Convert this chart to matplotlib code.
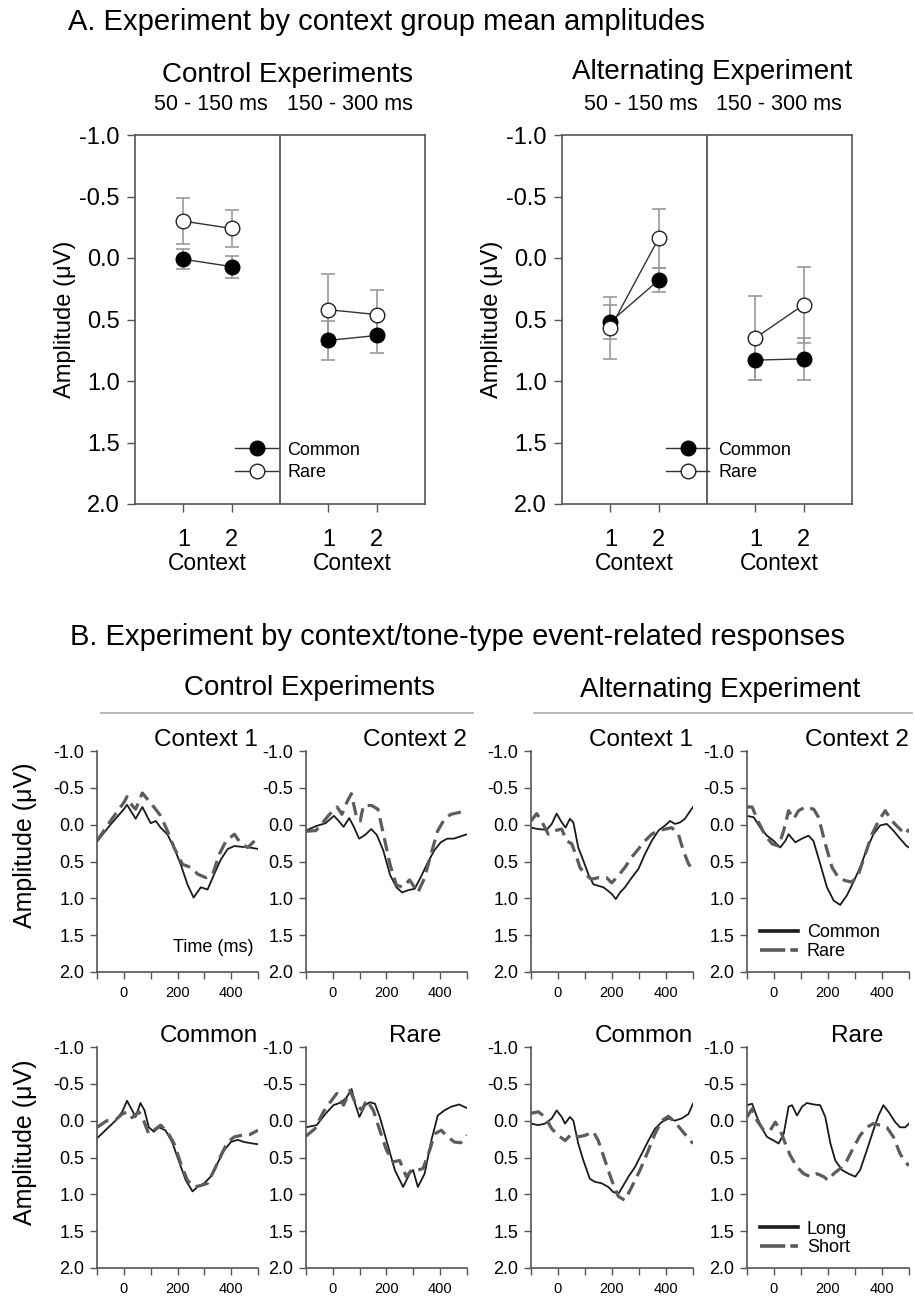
import matplotlib
matplotlib.use("Agg")
import matplotlib.pyplot as plt
from matplotlib.lines import Line2D

plt.rcParams['font.family'] = ['Liberation Sans', 'DejaVu Sans']
plt.rcParams['axes.unicode_minus'] = False

# ---- A: mean amplitudes (x: 1,2 = early window context 1/2, 4,5 = late window)
mean_x = [1, 2, 4, 5]
ctl_common = [0.01, 0.07, 0.67, 0.63]
ctl_common_err = [0.08, 0.09, 0.16, 0.14]
ctl_rare = [-0.30, -0.24, 0.42, 0.46]
ctl_rare_err = [0.19, 0.15, 0.29, 0.20]
alt_common = [0.52, 0.18, 0.83, 0.82]
alt_common_err = [0.14, 0.10, 0.16, 0.17]
alt_rare = [0.57, -0.16, 0.65, 0.38]
alt_rare_err = [0.25, 0.24, 0.34, 0.31]

# ---- B: ERP waveforms (time in ms, amplitude in uV)
ctl_c1_common_t = [-100, -50, 0, 12, 44, 69, 100, 119, 137, 162, 187, 212, 237, 260, 287, 312, 337, 362, 387, 412, 437, 469, 500]
ctl_c1_common_v = [0.23, 0.0, -0.21, -0.27, -0.08, -0.24, -0.02, -0.05, 0.04, 0.13, 0.31, 0.54, 0.81, 0.99, 0.85, 0.88, 0.67, 0.47, 0.33, 0.29, 0.30, 0.31, 0.33]
ctl_c1_rare_t = [-100, -50, 0, 12, 31, 44, 69, 87, 112, 137, 162, 187, 219, 250, 275, 306, 331, 356, 381, 412, 437, 462, 487, 500]
ctl_c1_rare_v = [0.22, -0.05, -0.30, -0.38, -0.26, -0.21, -0.43, -0.35, -0.24, -0.12, 0.08, 0.31, 0.54, 0.58, 0.67, 0.72, 0.67, 0.40, 0.22, 0.13, 0.26, 0.31, 0.22, 0.20]

ctl_c2_common_t = [-100, -63, -27, 4, 22, 40, 61, 77, 98, 120, 143, 164, 188, 213, 237, 258, 280, 305, 328, 353, 378, 402, 426, 451, 475, 500]
ctl_c2_common_v = [0.08, 0.02, -0.02, -0.12, -0.05, 0.03, -0.09, 0.02, 0.19, 0.14, 0.06, 0.14, 0.35, 0.68, 0.85, 0.92, 0.89, 0.87, 0.71, 0.52, 0.35, 0.24, 0.19, 0.19, 0.16, 0.13]
ctl_c2_rare_t = [-100, -63, -39, -15, 16, 34, 53, 69, 89, 102, 114, 145, 168, 188, 213, 237, 261, 286, 317, 341, 366, 390, 415, 439, 464, 500]
ctl_c2_rare_v = [0.09, 0.08, -0.02, -0.13, -0.24, -0.14, -0.31, -0.42, -0.09, -0.05, -0.26, -0.26, -0.21, 0.12, 0.54, 0.82, 0.85, 0.75, 0.92, 0.73, 0.40, 0.09, -0.07, -0.14, -0.16, -0.19]

alt_c1_common_t = [-100, -73, -42, -23, -5, 14, 28, 44, 57, 75, 94, 112, 131, 149, 168, 186, 199, 214, 230, 248, 273, 298, 322, 347, 372, 397, 415, 433, 452, 470, 483, 500]
alt_c1_common_v = [0.04, 0.06, 0.07, -0.01, -0.15, -0.03, 0.04, -0.08, -0.03, 0.31, 0.49, 0.67, 0.81, 0.83, 0.85, 0.90, 0.94, 1.01, 0.92, 0.85, 0.72, 0.60, 0.40, 0.22, 0.08, 0.01, -0.05, -0.01, -0.03, -0.08, -0.15, -0.24]
alt_c1_rare_t = [-100, -79, -61, -36, -11, 14, 32, 51, 69, 81, 100, 124, 149, 180, 199, 224, 248, 273, 298, 322, 347, 372, 397, 421, 446, 464, 483, 500]
alt_c1_rare_v = [-0.05, -0.15, -0.05, 0.13, 0.08, 0.06, 0.22, 0.26, 0.44, 0.58, 0.67, 0.74, 0.72, 0.72, 0.79, 0.69, 0.58, 0.44, 0.33, 0.22, 0.13, 0.08, 0.06, 0.04, 0.13, 0.35, 0.53, 0.62]

alt_c2_common_t = [-100, -75, -51, -26, -1, 23, 42, 54, 79, 103, 128, 146, 171, 196, 221, 245, 270, 294, 319, 344, 368, 393, 418, 442, 467, 491, 500]
alt_c2_common_v = [-0.12, -0.10, 0.04, 0.15, 0.22, 0.31, 0.22, 0.13, 0.24, 0.19, 0.15, 0.22, 0.53, 0.85, 1.03, 1.09, 0.96, 0.78, 0.58, 0.33, 0.13, 0.01, -0.01, 0.08, 0.19, 0.29, 0.31]
alt_c2_rare_t = [-100, -81, -57, -32, -7, 17, 36, 54, 73, 91, 116, 147, 165, 190, 215, 239, 264, 289, 313, 338, 363, 387, 412, 437, 461, 486, 500]
alt_c2_rare_v = [-0.24, -0.24, -0.03, 0.15, 0.26, 0.29, 0.08, -0.19, -0.08, -0.19, -0.24, -0.21, -0.10, 0.26, 0.58, 0.72, 0.76, 0.78, 0.67, 0.40, 0.13, -0.05, -0.19, -0.05, 0.04, 0.13, 0.06]

ctl_common_long_t = [-100, -63, -31, -6, 12, 31, 44, 62, 77, 93, 112, 130, 155, 180, 206, 231, 256, 274, 299, 324, 349, 374, 399, 424, 449, 480, 500]
ctl_common_long_v = [0.24, 0.11, 0.0, -0.12, -0.27, -0.14, -0.05, -0.24, -0.14, 0.09, 0.15, 0.09, 0.13, 0.29, 0.56, 0.81, 0.96, 0.90, 0.85, 0.76, 0.58, 0.40, 0.29, 0.26, 0.29, 0.31, 0.32]
ctl_common_short_t = [-100, -63, -31, -6, 12, 31, 56, 74, 93, 112, 137, 162, 187, 212, 237, 262, 287, 312, 337, 362, 387, 412, 437, 469, 500]
ctl_common_short_v = [0.09, 0.0, -0.01, -0.09, -0.12, -0.04, -0.12, 0.0, 0.18, 0.13, 0.06, 0.15, 0.31, 0.58, 0.81, 0.90, 0.88, 0.85, 0.67, 0.47, 0.29, 0.22, 0.20, 0.19, 0.13]

ctl_rare_long_t = [-100, -60, -28, 2, 33, 52, 70, 83, 99, 120, 138, 157, 175, 200, 231, 262, 286, 299, 317, 342, 367, 391, 416, 441, 471, 500]
ctl_rare_long_v = [0.09, 0.06, -0.09, -0.21, -0.25, -0.32, -0.43, -0.23, -0.05, -0.21, -0.25, -0.23, -0.05, 0.27, 0.67, 0.90, 0.72, 0.67, 0.90, 0.72, 0.27, -0.07, -0.14, -0.19, -0.22, -0.17]
ctl_rare_short_t = [-100, -67, -35, -10, 15, 40, 64, 83, 108, 126, 151, 175, 200, 225, 249, 274, 293, 317, 336, 361, 379, 404, 428, 453, 476, 500]
ctl_rare_short_v = [0.21, 0.11, -0.12, -0.25, -0.37, -0.21, -0.41, -0.25, -0.14, -0.28, -0.14, 0.13, 0.40, 0.56, 0.54, 0.76, 0.67, 0.67, 0.65, 0.40, 0.18, 0.13, 0.22, 0.29, 0.30, 0.20]

alt_common_long_t = [-100, -73, -48, -23, -5, 14, 26, 44, 57, 75, 94, 118, 137, 162, 186, 205, 224, 242, 261, 285, 310, 335, 359, 384, 409, 433, 458, 483, 500]
alt_common_long_v = [0.04, 0.06, 0.04, -0.03, -0.14, -0.05, 0.04, -0.05, 0.0, 0.31, 0.54, 0.79, 0.83, 0.85, 0.90, 0.97, 0.99, 0.88, 0.76, 0.63, 0.45, 0.27, 0.11, 0.02, -0.03, 0.0, -0.03, -0.09, -0.23]
alt_common_short_t = [-100, -73, -48, -23, 1, 26, 51, 75, 100, 131, 149, 174, 199, 224, 248, 273, 304, 335, 359, 384, 409, 433, 458, 483, 500]
alt_common_short_v = [-0.10, -0.12, -0.05, 0.11, 0.20, 0.27, 0.18, 0.22, 0.20, 0.15, 0.27, 0.54, 0.81, 1.03, 1.08, 0.90, 0.67, 0.40, 0.18, 0.0, -0.06, 0.02, 0.13, 0.24, 0.31]

alt_rare_long_t = [-100, -81, -63, -44, -26, -1, 17, 36, 54, 67, 85, 104, 122, 147, 171, 190, 209, 227, 252, 276, 301, 319, 344, 368, 387, 405, 424, 449, 467, 486, 500]
alt_rare_long_v = [-0.21, -0.23, -0.05, 0.11, 0.22, 0.27, 0.31, 0.18, -0.19, -0.21, -0.07, -0.19, -0.24, -0.22, -0.21, -0.05, 0.31, 0.54, 0.67, 0.72, 0.76, 0.67, 0.40, 0.13, -0.07, -0.21, -0.12, 0.02, 0.09, 0.09, 0.04]
alt_rare_short_t = [-100, -81, -63, -38, -14, 5, 23, 42, 60, 85, 110, 134, 159, 184, 200, 221, 245, 270, 295, 319, 344, 368, 393, 418, 442, 467, 486, 500]
alt_rare_short_v = [-0.05, -0.16, 0.0, 0.13, 0.13, 0.02, 0.13, 0.31, 0.47, 0.63, 0.72, 0.76, 0.72, 0.76, 0.81, 0.72, 0.65, 0.54, 0.36, 0.20, 0.09, 0.04, 0.06, 0.09, 0.22, 0.45, 0.56, 0.61]

y_ticks = [-1.0, -0.5, 0.0, 0.5, 1.0, 1.5, 2.0]
time_ticks = [-100, 0, 100, 200, 300, 400, 500]
time_labels = ['', '0', '', '200', '', '400', '']

W, H = 915, 1297
fig = plt.figure(figsize=(W / 100, H / 100), dpi=100)
SPINE = '#555555'
SOLID = '#1a1a1a'
DASH = '#5c5c5c'


def px_axes(x0, y0, x1, y1):
    return fig.add_axes([x0 / W, 1 - y1 / H, (x1 - x0) / W, (y1 - y0) / H])


def ftext(x, y, s, **kw):
    fig.text(x / W, 1 - y / H, s, **kw)


def draw_means(ax, common, common_err, rare, rare_err, leg_x):
    ax.errorbar(mean_x, common, yerr=common_err, fmt='none', ecolor='#999999',
                elinewidth=1.2, capsize=5, capthick=1.2, zorder=1)
    ax.errorbar(mean_x, rare, yerr=rare_err, fmt='none', ecolor='#999999',
                elinewidth=1.2, capsize=5, capthick=1.2, zorder=1)
    for i in (0, 2):
        ax.plot(mean_x[i:i + 2], common[i:i + 2], color='#333333', lw=1, zorder=2)
        ax.plot(mean_x[i:i + 2], rare[i:i + 2], color='#333333', lw=1, zorder=2)
    ax.plot(mean_x, common, 'o', ms=10.5, mfc='black', mec='black', ls='none', zorder=3)
    ax.plot(mean_x, rare, 'o', ms=10.5, mfc='white', mec='#222222', mew=1, ls='none', zorder=4)
    ax.axvline(3, color=SPINE, lw=1.3)
    ax.set_xlim(0, 6)
    ax.set_ylim(2, -1)
    ax.set_yticks(y_ticks)
    ax.set_yticklabels(['%.1f' % v for v in y_ticks])
    ax.set_xticks(mean_x)
    ax.set_xticklabels(['1', '2', '1', '2'])
    ax.tick_params(axis='both', direction='out', length=6, width=1, color=SPINE, labelsize=17)
    ax.tick_params(axis='x', pad=12)
    ax.tick_params(axis='y', pad=5)
    for s in ax.spines.values():
        s.set_color(SPINE)
        s.set_linewidth(1.2)
    ax.set_ylabel('Amplitude (μV)', fontsize=17, labelpad=2)
    for xc in (1.5, 4.5):
        ax.text(xc, -0.16, 'Context', transform=ax.get_xaxis_transform(),
                ha='center', va='center', fontsize=16.5)
    handles = [
        Line2D([], [], color='#333333', lw=1, marker='o', ms=10.5, mfc='black', mec='black'),
        Line2D([], [], color='#333333', lw=1, marker='o', ms=10.5, mfc='white', mec='#222222'),
    ]
    fig.legend(handles, ['Common', 'Rare'], loc='center left',
               bbox_to_anchor=(leg_x / W, 1 - 461.5 / H), frameon=False,
               fontsize=13, handlelength=2.4, handletextpad=0.5, labelspacing=0.3,
               borderpad=0, borderaxespad=0)


def draw_erp(ax, ta, va, tb, vb, title, title_x=1.0):
    ax.plot(ta, va, color=SOLID, lw=1.3)
    ax.plot(tb, vb, color=DASH, lw=2.3, dashes=(4.2, 2.2))
    ax.set_xlim(-100, 500)
    ax.set_ylim(2, -1)
    ax.set_yticks(y_ticks)
    ax.set_yticklabels(['%.1f' % v for v in y_ticks])
    ax.set_xticks(time_ticks)
    ax.set_xticklabels(time_labels)
    ax.tick_params(axis='y', direction='out', length=5, width=1, color=SPINE, labelsize=13, pad=4)
    ax.tick_params(axis='x', direction='out', length=5, width=1, color=SPINE, labelsize=10.5, pad=5)
    for k in ('top', 'right'):
        ax.spines[k].set_visible(False)
    for k in ('left', 'bottom'):
        ax.spines[k].set_color(SPINE)
        ax.spines[k].set_linewidth(1.2)
    ax.text(title_x, 1.0, title, transform=ax.transAxes, ha='right', va='bottom',
            fontsize=17.5)


# ---- section A
ftext(68, 22, 'A. Experiment by context group mean amplitudes', fontsize=21, va='center')

ax_a1 = px_axes(135, 135, 425, 504)
draw_means(ax_a1, ctl_common, ctl_common_err, ctl_rare, ctl_rare_err, 235)
ax_a2 = px_axes(562, 135, 852, 504)
draw_means(ax_a2, alt_common, alt_common_err, alt_rare, alt_rare_err, 666)

ftext(288, 75, 'Control Experiments', fontsize=20, ha='center', va='center')
ftext(211, 105, '50 - 150 ms', fontsize=15.5, ha='center', va='center')
ftext(350, 105, '150 - 300 ms', fontsize=15.5, ha='center', va='center')
ftext(712, 72, 'Alternating Experiment', fontsize=20, ha='center', va='center')
ftext(641, 105, '50 - 150 ms', fontsize=15.5, ha='center', va='center')
ftext(779, 105, '150 - 300 ms', fontsize=15.5, ha='center', va='center')

# ---- section B
ftext(70, 637, 'B. Experiment by context/tone-type event-related responses', fontsize=21, va='center')
ftext(310, 688, 'Control Experiments', fontsize=20, ha='center', va='center')
ftext(720, 690, 'Alternating Experiment', fontsize=20, ha='center', va='center')
fig.add_artist(Line2D([101 / W, 473 / W], [1 - 713 / H] * 2, color='#aaaaaa', lw=1.2))
fig.add_artist(Line2D([534 / W, 912 / W], [1 - 713 / H] * 2, color='#aaaaaa', lw=1.2))

cols = [(97, 258), (306, 467), (531, 693), (747, 909)]
rows = [(751, 972), (1047, 1268)]

b = [[None] * 4 for _ in rows]
for r, (y0, y1) in enumerate(rows):
    for c, (x0, x1) in enumerate(cols):
        b[r][c] = px_axes(x0, y0, x1, y1)

draw_erp(b[0][0], ctl_c1_common_t, ctl_c1_common_v, ctl_c1_rare_t, ctl_c1_rare_v, 'Context 1')
draw_erp(b[0][1], ctl_c2_common_t, ctl_c2_common_v, ctl_c2_rare_t, ctl_c2_rare_v, 'Context 2')
draw_erp(b[0][2], alt_c1_common_t, alt_c1_common_v, alt_c1_rare_t, alt_c1_rare_v, 'Context 1')
draw_erp(b[0][3], alt_c2_common_t, alt_c2_common_v, alt_c2_rare_t, alt_c2_rare_v, 'Context 2')
draw_erp(b[1][0], ctl_common_long_t, ctl_common_long_v, ctl_common_short_t, ctl_common_short_v, 'Common')
draw_erp(b[1][1], ctl_rare_long_t, ctl_rare_long_v, ctl_rare_short_t, ctl_rare_short_v, 'Rare', 0.84)
draw_erp(b[1][2], alt_common_long_t, alt_common_long_v, alt_common_short_t, alt_common_short_v, 'Common')
draw_erp(b[1][3], alt_rare_long_t, alt_rare_long_v, alt_rare_short_t, alt_rare_short_v, 'Rare', 0.84)

b[0][0].text(332, 1.67, 'Time (ms)', ha='center', va='center', fontsize=13)

ftext(25, 845, 'Amplitude (μV)', fontsize=18, rotation=90, ha='center', va='center')
ftext(25, 1142, 'Amplitude (μV)', fontsize=18, rotation=90, ha='center', va='center')

for r, labels, yc in ((0, ['Common', 'Rare'], 942), (1, ['Long', 'Short'], 1238.5)):
    handles = [Line2D([], [], color=SOLID, lw=2.6),
               Line2D([], [], color=DASH, lw=2.6, dashes=(7, 1.4))]
    fig.legend(handles, labels, loc='center left', bbox_to_anchor=(760 / W, 1 - yc / H),
               frameon=False, fontsize=13, handlelength=2.1, handletextpad=0.5,
               labelspacing=0.1, borderpad=0, borderaxespad=0)

fig.savefig('out.png', dpi=100)
